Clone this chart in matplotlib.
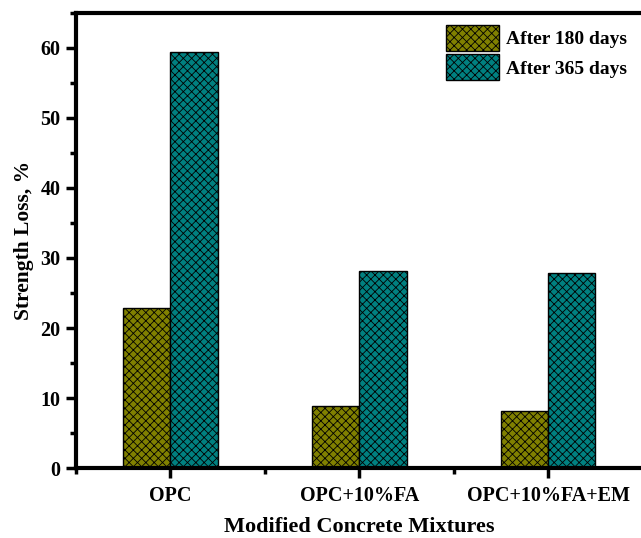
import numpy as np
import matplotlib.pyplot as plt
from matplotlib.ticker import MultipleLocator

categories = ['OPC', 'OPC+10%FA', 'OPC+10%FA+EM']
after_180 = [22.9, 8.9, 8.1]
after_365 = [59.4, 28.1, 27.9]
series_labels = ['After 180 days', 'After 365 days']

plt.rcParams['font.family'] = 'Liberation Serif'
plt.rcParams['font.weight'] = 'bold'
plt.rcParams['hatch.linewidth'] = 0.6

fig = plt.figure(figsize=(6.41, 5.38), dpi=100)
ax = fig.add_axes([0.1186, 0.130, 0.884, 0.846])

x = np.arange(len(categories))
w = 0.25
ax.bar(x - w/2, after_180, w, color='#808000', edgecolor='black', hatch='xxxx',
       linewidth=1.0, label=series_labels[0])
ax.bar(x + w/2, after_365, w, color='#008080', edgecolor='black', hatch='xxxx',
       linewidth=1.0, label=series_labels[1])

ax.set_xlim(-0.5, 2.5)
ax.set_ylim(0, 65)
ax.set_xticks(x)
ax.set_xticklabels(categories, fontsize=14.5, fontweight='bold')
ax.xaxis.set_minor_locator(MultipleLocator(0.5))
ax.yaxis.set_major_locator(MultipleLocator(10))
ax.yaxis.set_minor_locator(MultipleLocator(5))
ax.tick_params(axis='both', which='major', direction='out', length=7, width=2.5, labelsize=14.5)
ax.tick_params(axis='both', which='minor', direction='out', length=4, width=2.5)
ax.tick_params(axis='x', pad=6)
ax.tick_params(axis='y', pad=4)
for s in ax.spines.values():
    s.set_linewidth(3)

ax.set_ylabel('Strength Loss, %', fontsize=15.5, fontweight='bold', labelpad=5)
ax.set_xlabel('Modified Concrete Mixtures', fontsize=16, fontweight='bold')
ax.xaxis.set_label_coords(0.5, -0.13)
ax.xaxis.label.set_va('center')

ax.legend(loc='upper right', frameon=False, fontsize=14, handlelength=2.73, handleheight=1.68,
          labelspacing=0.2, handletextpad=0.35, borderaxespad=0.2,
          bbox_to_anchor=(0.993, 1.0))

fig.savefig('out.png', dpi=100)
